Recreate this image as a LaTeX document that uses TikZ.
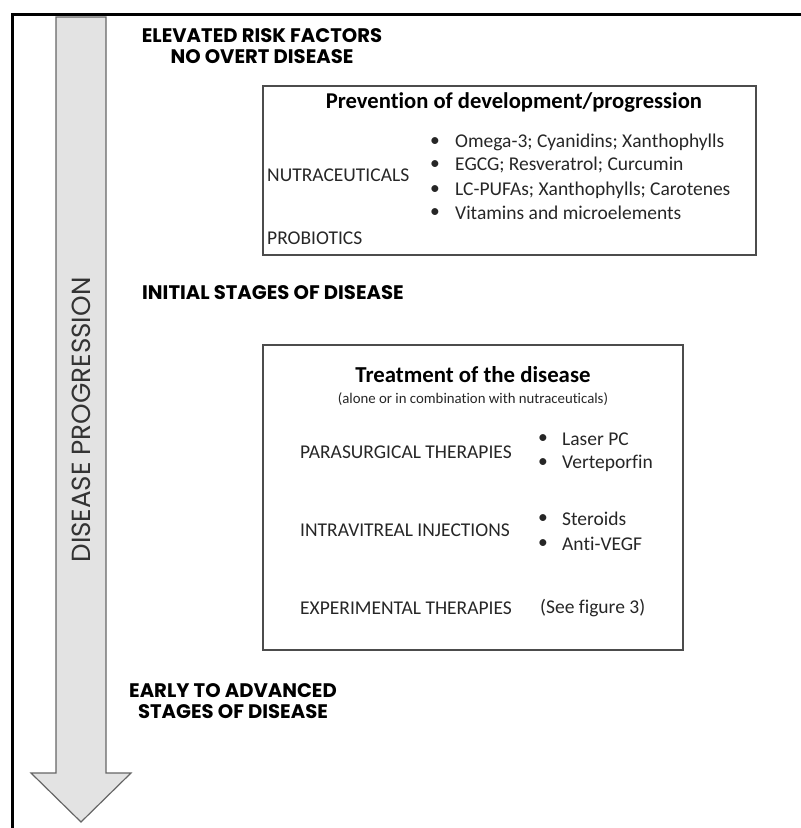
\documentclass[tikz,border=0pt]{standalone}
\usepackage{fontspec}
\setmainfont{Carlito}[Ligatures=NoCommon]
\newfontfamily\stagefont{Poppins}
\usetikzlibrary{positioning}

\tikzset{
  stage/.style={font=\stagefont\bfseries\fontsize{19.6}{21}\selectfont, align=center, inner sep=0},
  panel/.style={draw=black!70, line width=1.2pt},
  group/.style={font=\fontsize{19.5}{22}\selectfont, anchor=west, inner sep=0, text=black!85},
  item/.style={font=\fontsize{19.5}{22}\selectfont, anchor=west, inner sep=0, text=black!85},
  dot/.style={font=\fontsize{19.5}{22}\selectfont, inner sep=0, text=black!85}
}

\begin{document}
\begin{tikzpicture}[x=1pt,y=-1pt]
    \useasboundingbox (0,0) rectangle (801,828);
    % frame
    \draw [line width=3pt] (12,828) -- (12,14) -- (801,14);

    % progression arrow
    \draw [fill=gray!22, draw=black!60, line width=1.2pt, line join=miter]
      (56,17) -- (106,17) -- (106,773) -- (131,773) -- (81,822) -- (31,773) -- (56,773) -- cycle;
    \node (progress) [rotate=90, font=\stagefont\fontsize{26.2}{30}\selectfont, text=black!80] at (81,420) {DISEASE PROGRESSION};

    % stages
    \node (risk) [stage] at (262,46) {ELEVATED RISK FACTORS\\NO OVERT DISEASE};
    \node (initial) [stage, anchor=west] at (142,293) {INITIAL STAGES OF DISEASE};
    \node (advanced) [stage] at (233,701) {EARLY TO ADVANCED\\STAGES OF DISEASE};

    % prevention box
    \draw [panel] (263,86) rectangle (756,255);
    \node (prevtitle) [font=\bfseries\fontsize{22.6}{26}\selectfont] at (514,102) {Prevention of development/progression};
    \node (nutra) [group] at (267,175) {NUTRACEUTICALS};
    \node (probio) [group] at (267,238) {PROBIOTICS};
    \node (b1) [dot] at (435,142) {\textbullet};
    \node (b2) [dot] at (435,165) {\textbullet};
    \node (b3) [dot] at (435,190) {\textbullet};
    \node (b4) [dot] at (435,213) {\textbullet};
    \node (omega) [item] at (455,142) {Omega-3; Cyanidins; Xanthophylls};
    \node (egcg) [item] at (455,165) {EGCG; Resveratrol; Curcumin};
    \node (pufa) [item] at (455,190) {LC-PUFAs; Xanthophylls; Carotenes};
    \node (vitam) [item] at (455,213) {Vitamins and microelements};

    % treatment box
    \draw [panel] (263,345) rectangle (683,650);
    \node (treattitle) [font=\bfseries\fontsize{22.8}{26}\selectfont] at (473,375) {Treatment of the disease};
    \node (treatnote) [font=\fontsize{14.8}{17}\selectfont, text=black!85] at (473,399) {(alone or in combination with nutraceuticals)};
    \node (parasurg) [group] at (300,452) {PARASURGICAL THERAPIES};
    \node (intravit) [group] at (300,530) {INTRAVITREAL INJECTIONS};
    \node (experim) [group] at (300,608) {EXPERIMENTAL THERAPIES};
    \node (b5) [dot] at (543,439) {\textbullet};
    \node (b6) [dot] at (543,463) {\textbullet};
    \node (b7) [dot] at (543,519) {\textbullet};
    \node (b8) [dot] at (543,544) {\textbullet};
    \node (laser) [item] at (562,439) {Laser PC};
    \node (verte) [item] at (562,463) {Verteporfin};
    \node (steroid) [item] at (562,519) {Steroids};
    \node (antivegf) [item] at (562,544) {Anti-VEGF};
    \node (seefig) [item] at (540,608) {(See figure 3)};
\end{tikzpicture}
\end{document}
